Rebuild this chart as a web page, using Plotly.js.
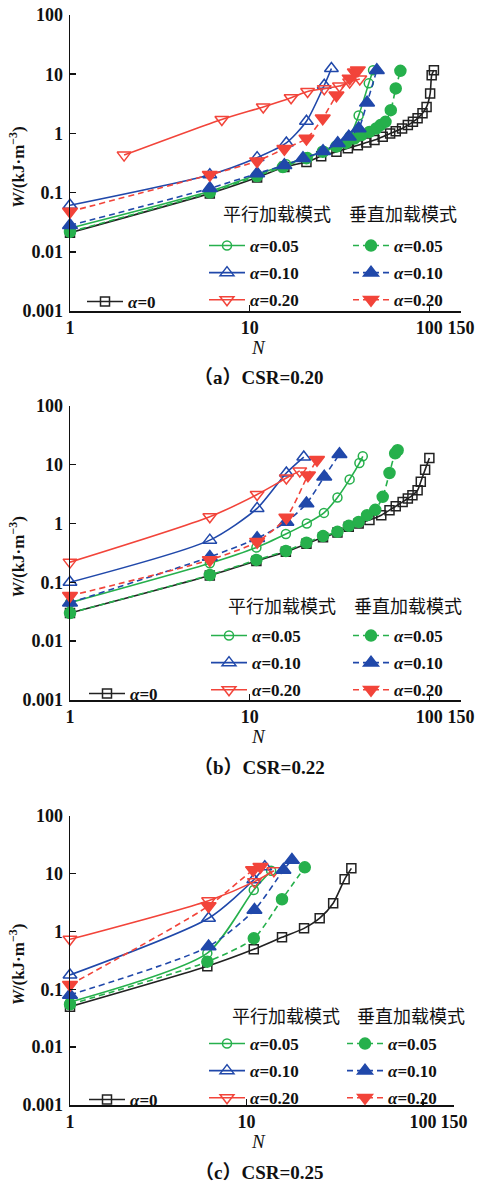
<!DOCTYPE html>
<html>
<head>
<meta charset="utf-8">
<script src="https://cdn.plot.ly/plotly-3.0.1.min.js"></script>
<style>html,body{margin:0;padding:0;background:#fff;}#chart{width:481px;height:1200px;}</style>
</head>
<body>
<div id="chart"></div>
<script>
// ---------- Data: N (cycles) and W (kJ/m^3) ----------
// Panel (a) CSR=0.20
var aN0 = [1, 6, 11, 15.6, 20.7, 25, 30.4, 35.2, 40, 44.6, 49.5, 55, 60.5, 65, 70.5, 75.9, 81, 86, 91.6, 96.5, 101, 103, 106];
var aW0 = [0.021, 0.097, 0.18, 0.27, 0.33, 0.41, 0.49, 0.56, 0.63, 0.70, 0.77, 0.88, 1.0, 1.09, 1.21, 1.38, 1.57, 1.8, 2.2, 2.8, 4.7, 9.6, 11.7];
var aNp05 = [1, 6, 11, 16, 21, 26, 31, 36, 40.4, 46, 48.6];
var aWp05 = [0.025, 0.105, 0.2, 0.3, 0.4, 0.5, 0.65, 0.9, 2.0, 7.0, 11.7];
var aNp10 = [1, 6, 11, 16, 20.7, 26, 28.5];
var aWp10 = [0.061, 0.2, 0.39, 0.69, 1.6, 6.5, 12.5];
var aNp20 = [2, 7, 11.9, 17, 21, 26, 31.6, 36, 41];
var aWp20 = [0.43, 1.72, 2.8, 4.0, 5.1, 5.7, 6.3, 7.4, 8.3];
var aNv05 = [1, 6, 11, 15.3, 20.7, 25.5, 30.4, 34.4, 38.2, 41.9, 46.4, 50.6, 53.5, 57, 61, 65, 69];
var aWv05 = [0.0217, 0.10, 0.19, 0.27, 0.38, 0.49, 0.6, 0.69, 0.82, 0.94, 1.06, 1.21, 1.38, 1.57, 2.47, 5.75, 11.4];
var aNv10 = [1, 6, 11, 15.6, 19.8, 25.6, 30.9, 35.6, 40.4, 45, 51];
var aWv10 = [0.028, 0.118, 0.21, 0.29, 0.38, 0.50, 0.68, 0.88, 1.21, 3.3, 11.7];
var aNv20 = [1, 6, 11, 15.6, 20.7, 25.5, 30.4, 36, 38.5, 40];
var aWv20 = [0.048, 0.2, 0.34, 0.55, 0.82, 1.8, 4.4, 8.5, 10.8, 11.7];

// Panel (b) CSR=0.22
var bN0 = [1, 6, 10.9, 15.9, 20.7, 25.6, 30.8, 35.6, 40.4, 46.4, 54, 60, 65, 71, 75.9, 80.5, 86, 89.6, 94.7, 100];
var bW0 = [0.03, 0.13, 0.23, 0.33, 0.45, 0.58, 0.7, 0.88, 1.0, 1.14, 1.38, 1.68, 1.96, 2.32, 2.65, 3.0, 3.66, 5.1, 8.2, 12.9];
var bNp05 = [1, 6, 10.9, 15.9, 20.8, 25.9, 30.8, 36, 40.8, 42.6];
var bWp05 = [0.045, 0.21, 0.39, 0.66, 1.0, 1.51, 2.76, 5.6, 10.6, 13.8];
var bNp10 = [1, 6, 11, 16, 20];
var bWp10 = [0.10, 0.52, 1.8, 7.2, 13.4];
var bNp20 = [1, 6, 11, 16, 19];
var bWp20 = [0.22, 1.3, 3.1, 5.9, 7.8];
var bNv05 = [1, 6, 10.9, 15.9, 20.7, 25.6, 30.8, 35.6, 40.4, 45, 50, 55, 60, 64.5, 66.6];
var bWv05 = [0.030, 0.133, 0.24, 0.34, 0.47, 0.61, 0.72, 0.91, 1.06, 1.38, 1.7, 2.83, 7.2, 15.5, 17.5];
var bNv10 = [1, 6, 11, 16, 20.7, 26, 31.6];
var bWv10 = [0.045, 0.27, 0.56, 1.06, 2.18, 6.2, 15];
var bNv20 = [1, 6, 11, 16, 21.1, 23.7];
var bWv20 = [0.059, 0.24, 0.49, 1.26, 6.6, 12.1];

// Panel (c) CSR=0.25
var cN0 = [1, 6, 11, 15.9, 21.2, 26, 31, 36, 39.3];
var cW0 = [0.05, 0.25, 0.49, 0.79, 1.13, 1.69, 3.07, 7.96, 12.3];
var cNp05 = [1, 6, 11, 13.8];
var cWp05 = [0.06, 0.42, 5.2, 11.2];
var cNp10 = [1, 6.1, 11, 12.7];
var cWp10 = [0.177, 1.69, 7.8, 13.1];
var cNp20 = [1, 6.1, 11.1, 14.3];
var cWp20 = [0.73, 3.4, 7.25, 11.2];
var cNv05 = [1, 6, 11, 15.9, 21.4];
var cWv05 = [0.055, 0.30, 0.76, 3.6, 12.8];
var cNv10 = [1, 6.1, 11.1, 16.2, 18.1];
var cWv10 = [0.08, 0.55, 2.35, 11.5, 17.2];
var cNv20 = [1, 6.1, 10.9, 12.0];
var cWv20 = [0.12, 2.75, 11.5, 13.1];

var seriesLabels = ['<i>α</i>=0', '<i>α</i>=0.05', '<i>α</i>=0.10', '<i>α</i>=0.20'];
var panelCaptions = ['（a）CSR=0.20', '（b）CSR=0.22', '（c）CSR=0.25'];
var yTickVals = [0.001, 0.01, 0.1, 1, 10, 100];
var yTickText = ['0.001', '0.01', '0.1', '1', '10', '100'];
var xTickVals = [1, 10, 100, 150];
var xTickText = ['1', '10', '100', '150'];

// ---------- Styles ----------
var GREEN = 'rgb(38,176,76)', BLUE = 'rgb(32,72,170)', RED = 'rgb(242,68,58)', BLACK = '#222';
var H = 1200, Wd = 481;
function py(px) { return 1 - px / H; }
function px(x) { return x / Wd; }

var panels = [
  {d: [aN0, aW0, aNp05, aWp05, aNp10, aWp10, aNp20, aWp20, aNv05, aWv05, aNv10, aWv10, aNv20, aWv20],
   top: 15, bot: 311, right: 461, leg: {z: 298, p: 242, hx1: 277, hx2: 403, hy: 213, px: 204, vx: 348, zx: 82}},
  {d: [bN0, bW0, bNp05, bWp05, bNp10, bWp10, bNp20, bWp20, bNv05, bWv05, bNv10, bWv10, bNv20, bWv20],
   top: 405.7, bot: 700, right: 461, leg: {z: 690, p: 632, hx1: 282, hx2: 408, hy: 605, px: 206, vx: 348, zx: 84}},
  {d: [cN0, cW0, cNp05, cWp05, cNp10, cWp10, cNp20, cWp20, cNv05, cWv05, cNv10, cWv10, cNv20, cWv20],
   top: 815.7, bot: 1105, right: 454, leg: {z: 1096, p: 1040, hx1: 286, hx2: 411, hy: 1015, px: 204, vx: 342, zx: 84}}
];

var styles = [
  {c: BLACK, sym: 'square-open', size: 9, dash: 'solid', lab: 0, grp: 0},
  {c: GREEN, sym: 'circle-open', size: 9, dash: 'solid', lab: 1, grp: 1},
  {c: BLUE, sym: 'triangle-up-open', size: 12, dash: 'solid', lab: 2, grp: 1},
  {c: RED, sym: 'triangle-down-open', size: 12, dash: 'solid', lab: 3, grp: 1},
  {c: GREEN, sym: 'circle', size: 11, dash: '6px,4px', lab: 1, grp: 2},
  {c: BLUE, sym: 'triangle-up', size: 13, dash: '6px,4px', lab: 2, grp: 2},
  {c: RED, sym: 'triangle-down', size: 13, dash: '6px,4px', lab: 3, grp: 2}
];

var traces = [];
var layout = {
  width: Wd, height: H,
  margin: {l: 0, r: 0, t: 0, b: 0},
  paper_bgcolor: '#fff', plot_bgcolor: 'rgba(0,0,0,0)',
  showlegend: true,
  annotations: [], shapes: []
};

var serif = 'Liberation Serif, Times New Roman, serif';
var tickFont = {family: serif, size: 18, color: '#111', weight: 'bold'};
var legFont = {family: serif, size: 17, color: '#111', weight: 'bold'};
var cjk = 'Noto Sans CJK SC, sans-serif';

panels.forEach(function (p, i) {
  var sfx = i === 0 ? '' : String(i + 1);
  var xa = 'xaxis' + sfx, ya = 'yaxis' + sfx;
  layout[xa] = {
    type: 'log', range: [0, Math.log10(150)], domain: [px(70), px(p.right)],
    anchor: 'y' + sfx, tickvals: xTickVals, ticktext: xTickText,
    ticks: 'inside', ticklen: 6, tickwidth: 1.5, tickcolor: '#111',
    showline: true, linecolor: '#111', linewidth: 1.5, showgrid: false, zeroline: false,
    tickfont: tickFont, automargin: false, fixedrange: true
  };
  layout[ya] = {
    type: 'log', range: [-3, 2], domain: [py(p.bot), py(p.top)],
    anchor: 'x' + sfx, tickvals: yTickVals, ticktext: yTickText,
    ticks: 'inside', ticklen: 6, tickwidth: 1.5, tickcolor: '#111',
    showline: true, linecolor: '#111', linewidth: 1.5, showgrid: false, zeroline: false,
    tickfont: tickFont, automargin: false, fixedrange: true, ticklabelstandoff: 2
  };
  var legIds = [3 * i + 1, 3 * i + 2, 3 * i + 3].map(function (k) { return k === 1 ? 'legend' : 'legend' + k; });
  var common = {xanchor: 'left', yanchor: 'top', bgcolor: 'rgba(0,0,0,0)', borderwidth: 0,
    font: legFont, tracegroupgap: 2, itemwidth: 36};
  layout[legIds[0]] = Object.assign({x: px(p.leg.zx), y: py(p.leg.z - 14)}, common);
  layout[legIds[1]] = Object.assign({x: px(p.leg.px), y: py(p.leg.p - 14)}, common);
  layout[legIds[2]] = Object.assign({x: px(p.leg.vx), y: py(p.leg.p - 14)}, common);

  styles.forEach(function (s, k) {
    traces.push({
      type: 'scatter', mode: 'lines+markers',
      x: p.d[2 * k], y: p.d[2 * k + 1],
      xaxis: 'x' + sfx, yaxis: 'y' + sfx,
      name: seriesLabels[s.lab],
      legend: legIds[s.grp], legendgroup: 'g' + i + '_' + k,
      line: {color: s.c, width: 1.6, dash: s.dash, shape: 'spline', smoothing: 0.7},
      marker: {symbol: s.sym, size: s.size, color: s.c, line: {color: s.c, width: 1.5}},
      cliponaxis: false, hoverinfo: 'x+y'
    });
  });

  // headers
  layout.annotations.push({xref: 'paper', yref: 'paper', x: px(p.leg.hx1), y: py(p.leg.hy),
    xanchor: 'center', yanchor: 'middle', showarrow: false, text: '平行加载模式',
    font: {family: cjk, size: 18, color: '#111'}});
  layout.annotations.push({xref: 'paper', yref: 'paper', x: px(p.leg.hx2), y: py(p.leg.hy),
    xanchor: 'center', yanchor: 'middle', showarrow: false, text: '垂直加载模式',
    font: {family: cjk, size: 18, color: '#111'}});
  // y title
  layout.annotations.push({xref: 'paper', yref: 'paper', x: px(17), y: py((p.top + p.bot) / 2 + 4),
    xanchor: 'center', yanchor: 'middle', showarrow: false, textangle: -90,
    text: '<i>W</i>/(kJ·m<sup>−3</sup>)', font: {family: serif, size: 17, color: '#111', weight: 'bold'}});
  // x title
  layout.annotations.push({xref: 'paper', yref: 'paper', x: px(258), y: py(p.bot + 36),
    xanchor: 'center', yanchor: 'middle', showarrow: false,
    text: '<i>N</i>', font: {family: serif, size: 19, color: '#111'}});
  // caption
  layout.annotations.push({xref: 'paper', yref: 'paper', x: px(259), y: py(p.bot + 67),
    xanchor: 'center', yanchor: 'middle', showarrow: false,
    text: panelCaptions[i], font: {family: serif + ', Noto Sans CJK SC', size: 19, color: '#111', weight: 'bold'}});
});

Plotly.newPlot('chart', traces, layout, {displayModeBar: false, staticPlot: true});
</script>
</body>
</html>
